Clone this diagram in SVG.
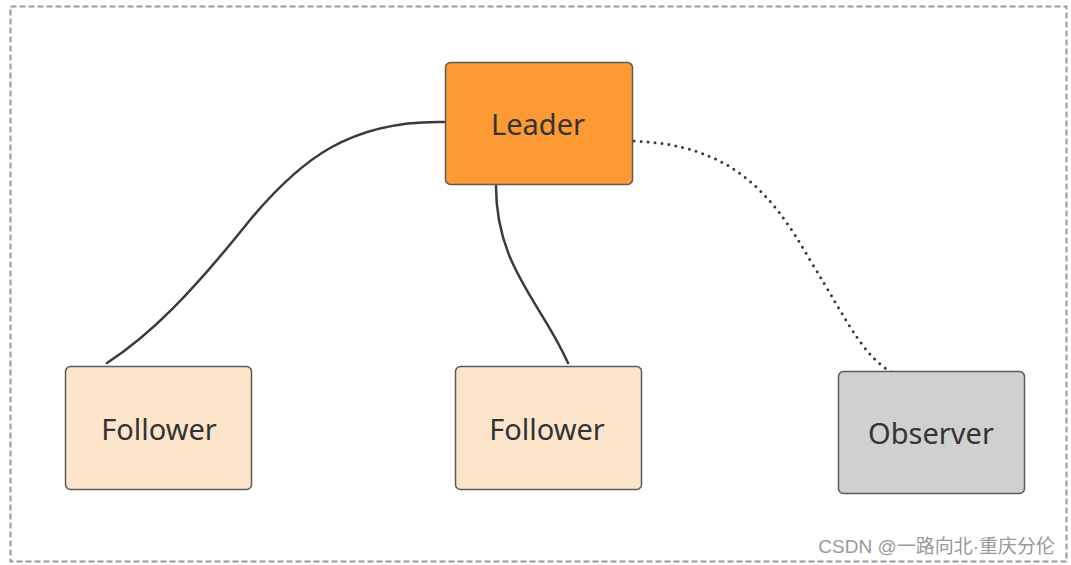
<svg xmlns="http://www.w3.org/2000/svg" width="1071" height="565" viewBox="0 0 1071 565">
<style>
.box{stroke:#5a5a5a;stroke-width:1.5}
.lbl{font-family:"Noto Sans","Open Sans",sans-serif;font-size:29px;fill:#333;text-anchor:middle;dominant-baseline:central}
.edge{fill:none;stroke:#3a3a3a;stroke-width:2.5;stroke-linecap:round}
.dot{fill:none;stroke:#3a3a3a;stroke-width:3;stroke-dasharray:0 7;stroke-linecap:round}
</style>
<rect x="0" y="0" width="1071" height="565" fill="#fff"/>
<rect id="frame" x="10.5" y="6.5" width="1056" height="555" fill="none" stroke="#999" stroke-width="2" stroke-dasharray="6 3"/>
<g id="connectors">
<path class="edge" d="M444,122 C350,120 300,160 250,220 C190,295 150,335 107,363"/>
<path class="edge" d="M496,180 C494,265 540,300 568,363"/>
<path class="dot" d="M634,141 C730,145 770,190 810,260 C850,325 866,364 902,377"/>
</g>
<g id="leader">
<rect class="box" x="445.5" y="62.5" width="187" height="122" rx="5" fill="#fd9a33"/>
<text class="lbl" x="538" y="123">Leader</text>
</g>
<g id="follower1">
<rect class="box" x="65.5" y="366.5" width="186" height="123" rx="5" fill="#fde5cc"/>
<text class="lbl" x="159" y="428">Follower</text>
</g>
<g id="follower2">
<rect class="box" x="455.5" y="366.5" width="186" height="123" rx="5" fill="#fde5cc"/>
<text class="lbl" x="547" y="428">Follower</text>
</g>
<g id="observer">
<rect class="box" x="838.5" y="371.5" width="186" height="122" rx="5" fill="#d0d0d0"/>
<text class="lbl" x="931" y="432">Observer</text>
</g>
<text x="1055" y="553" font-family="'Liberation Sans','Noto Sans CJK SC',sans-serif" font-size="19" fill="#999" text-anchor="end">CSDN @一路向北·重庆分伦</text>
</svg>
